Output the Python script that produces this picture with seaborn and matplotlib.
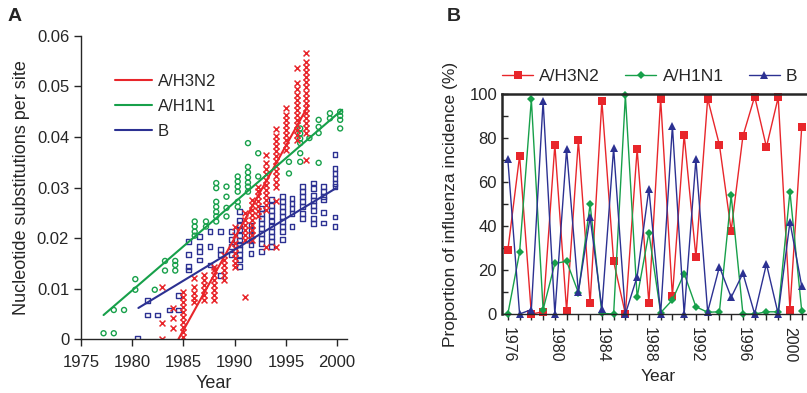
import numpy as np
import pandas as pd
import matplotlib
matplotlib.use("Agg")
import matplotlib.pyplot as plt
import seaborn as sns

sns.set_theme(style="ticks")
plt.rcParams['font.family'] = ['Liberation Sans', 'DejaVu Sans']

RED = '#e8262b'
GREEN = '#17a04a'
BLUE = '#2c3192'

# ---- panel A: substitutions per site, columns of samples per year ----
h3n2_cols = {
    1982.95: [0.0, 0.0032, 0.0104],
    1983.95: [0.0022, 0.0042, 0.0061],
    1985.0: [0.0005, 0.0015, 0.0025, 0.0035, 0.0045, 0.0055, 0.0064, 0.0074, 0.0084, 0.0093],
    1986.0: [0.0074, 0.0081, 0.0092, 0.0104, 0.0121],
    1987.0: [0.0078, 0.0088, 0.0098, 0.0108, 0.0118, 0.0127],
    1988.0: [0.0078, 0.0088, 0.0098, 0.0108, 0.0118, 0.0128, 0.0137, 0.0144],
    1989.0: [0.0117, 0.0127, 0.0137, 0.0147, 0.0157, 0.0167],
    1990.0: [0.0144, 0.0150, 0.0160, 0.0170, 0.0180, 0.0190, 0.0206, 0.0223],
    1991.0: [0.0084, 0.0196, 0.0206, 0.0216, 0.0226, 0.0236, 0.0250],
    1991.7: [0.0196, 0.0206, 0.0216, 0.0226, 0.0236, 0.0246, 0.0256, 0.0266, 0.0276],
    1992.3: [0.0243, 0.0253, 0.0263, 0.0273, 0.0283, 0.0293, 0.0302],
    1993.1: [0.0183, 0.0256, 0.0266, 0.0276, 0.0286, 0.0296, 0.0306, 0.0316, 0.0326, 0.0336, 0.0348, 0.0365],
    1994.0: [0.0183, 0.0273, 0.0302, 0.0312, 0.0322, 0.0332, 0.0342, 0.0352, 0.0362, 0.0372,
             0.0382, 0.0392, 0.0402, 0.0415],
    1995.0: [0.0374, 0.0384, 0.0394, 0.0404, 0.0414, 0.0424, 0.0434, 0.0444, 0.0457],
    1996.1: [0.0394, 0.0404, 0.0414, 0.0424, 0.0434, 0.0444, 0.0454, 0.0464, 0.0474, 0.0484,
             0.0495, 0.0506, 0.0536],
    1997.0: [0.0355, 0.0408, 0.0418, 0.0428, 0.0438, 0.0448, 0.0458, 0.0468, 0.0478, 0.0488,
             0.0498, 0.0508, 0.0518, 0.0528, 0.0538, 0.0548, 0.0566],
}
h1n1_cols = {
    1977.2: [0.0012],
    1978.2: [0.0012, 0.0058],
    1979.2: [0.0058],
    1980.3: [0.0098, 0.0119],
    1982.2: [0.0098],
    1983.2: [0.0136, 0.0155],
    1984.2: [0.0136, 0.0147, 0.0155],
    1986.1: [0.0205, 0.0213, 0.0223, 0.0233],
    1987.2: [0.0223, 0.0233],
    1988.2: [0.0233, 0.0243, 0.0252, 0.0262, 0.0272, 0.0299, 0.0309],
    1989.2: [0.0243, 0.0260, 0.0282, 0.0302],
    1990.3: [0.0262, 0.0272, 0.0292, 0.0302, 0.0312, 0.0322],
    1991.3: [0.0292, 0.0302, 0.0310, 0.0320, 0.0330, 0.0341, 0.0388],
    1992.3: [0.0322, 0.0368],
    1995.3: [0.0328, 0.0351],
    1996.4: [0.0351, 0.0368, 0.0388, 0.0397, 0.0407, 0.0417],
    1997.3: [0.0398],
    1998.2: [0.0349, 0.0408, 0.0420, 0.0434],
    1999.3: [0.0437, 0.0447],
    2000.3: [0.0417, 0.0434, 0.0442, 0.0450],
}
b_cols = {
    1980.5: [0.0001],
    1981.5: [0.0048, 0.0076],
    1982.5: [0.0048],
    1983.6: [0.0058],
    1984.5: [0.0058, 0.0086],
    1985.5: [0.0137, 0.0144, 0.0167, 0.0193],
    1986.6: [0.0157, 0.0173, 0.0183, 0.0203],
    1987.6: [0.0147, 0.0183, 0.0213],
    1988.6: [0.0127, 0.0167, 0.0177, 0.0213],
    1989.7: [0.0167, 0.0183, 0.0197, 0.0213],
    1990.5: [0.0144, 0.0157, 0.0167, 0.0177, 0.0187, 0.0196, 0.0206, 0.0216, 0.0226, 0.0236, 0.0252],
    1991.6: [0.0170, 0.0187, 0.0196, 0.0206, 0.0216, 0.0226],
    1992.6: [0.0173, 0.0189, 0.0199, 0.0209, 0.0219, 0.0229, 0.0239, 0.0249, 0.0259],
    1993.6: [0.0183, 0.0193, 0.0203, 0.0213, 0.0223, 0.0234, 0.0245, 0.0255, 0.0265, 0.0276],
    1994.7: [0.0197, 0.0213, 0.0223, 0.0233, 0.0243, 0.0253, 0.0263, 0.0273, 0.0282],
    1995.6: [0.0223, 0.0249, 0.0259, 0.0269, 0.0279],
    1996.6: [0.0239, 0.0249, 0.0262, 0.0272, 0.0282, 0.0292, 0.0302],
    1997.7: [0.0229, 0.0239, 0.0255, 0.0265, 0.0275, 0.0285, 0.0298, 0.0309],
    1998.7: [0.0230, 0.0250, 0.0276, 0.0282, 0.0292, 0.0302],
    1999.8: [0.0223, 0.0242, 0.0302, 0.0308, 0.0318, 0.0328, 0.0338, 0.0365],
}

# regression lines (end points)
h3n2_fit_year = [1984.5, 1997.2]
h3n2_fit_subs = [0.0, 0.0463]
h1n1_fit_year = [1977.2, 2000.5]
h1n1_fit_subs = [0.0048, 0.0454]
b_fit_year = [1980.6, 1999.9]
b_fit_subs = [0.0062, 0.0299]

a_xticks = [1975, 1980, 1985, 1990, 1995, 2000]
a_yticks = [0, 0.01, 0.02, 0.03, 0.04, 0.05, 0.06]
a_ytick_labels = ['0', '0.01', '0.02', '0.03', '0.04', '0.05', '0.06']

# ---- panel B: proportion of incidence (%) ----
years_b = list(range(1976, 2002))
h3n2_pct = [29, 72, 0, 1, 77, 1.5, 79, 5, 97, 24, 0, 75, 5, 98, 8, 81.5, 26, 98, 77, 38,
            81, 99, 76, 98.6, 2, 85]
h1n1_pct = [0, 28, 97.7, 2, 23, 24, 9.7, 50, 0.3, 0, 99.5, 7.6, 37, 0.6, 6.4, 18.4, 3.3,
            0.8, 1, 54, 0, 0, 1, 1, 55.7, 1.5]
b_pct = [70.4, 0, 2, 97, 0, 75, 10, 44, 2.5, 75.5, 0, 17, 57, 0, 85.6, 0, 70.4, 1, 21.5,
         7.6, 18.5, 0, 22.8, 0, 42, 12.7]
b_xticks = [1976, 1980, 1984, 1988, 1992, 1996, 2000]


def cols_to_df(cols):
    rows = [(yr, v) for yr, vals in cols.items() for v in vals]
    return pd.DataFrame(rows, columns=['year', 'subs'])


fig = plt.figure(figsize=(8.07, 3.93), dpi=100)
ax_a = fig.add_axes([0.1004, 0.1366, 0.33, 0.772])
ax_b = fig.add_axes([0.622, 0.201, 0.386, 0.559])

# panel A
sns.scatterplot(data=cols_to_df(b_cols), x='year', y='subs', ax=ax_a, marker='s', s=12,
                facecolors='none', edgecolors=BLUE, linewidths=1.0)
sns.scatterplot(data=cols_to_df(h1n1_cols), x='year', y='subs', ax=ax_a, marker='o', s=13,
                facecolors='none', edgecolors=GREEN, linewidths=1.0)
sns.scatterplot(data=cols_to_df(h3n2_cols), x='year', y='subs', ax=ax_a, marker='x', s=18,
                color=RED, linewidths=1.1)

sns.lineplot(x=h3n2_fit_year, y=h3n2_fit_subs, ax=ax_a, color=RED, lw=1.5, label='A/H3N2')
sns.lineplot(x=h1n1_fit_year, y=h1n1_fit_subs, ax=ax_a, color=GREEN, lw=1.5, label='A/H1N1')
sns.lineplot(x=b_fit_year, y=b_fit_subs, ax=ax_a, color=BLUE, lw=1.5, label='B')

ax_a.set_xlim(1975, 2001)
ax_a.set_ylim(0, 0.06)
ax_a.set_xticks(a_xticks)
ax_a.set_yticks(a_yticks, a_ytick_labels)
ax_a.tick_params(labelsize=12, direction='out', length=5, width=1)
ax_a.tick_params(axis='x', pad=6)
ax_a.set_xlabel('Year', fontsize=13)
ax_a.set_ylabel('Nucleotide substitutions per site', fontsize=13, labelpad=5)
sns.despine(ax=ax_a)
for sp in ax_a.spines.values():
    sp.set_linewidth(1)
ax_a.legend(loc='upper left', bbox_to_anchor=(0.128, 0.875), frameon=False, fontsize=12,
            handlelength=2.2, handletextpad=0.35, labelspacing=0.6, borderpad=0,
            borderaxespad=0)

# panel B
sns.lineplot(x=years_b, y=h3n2_pct, ax=ax_b, color=RED, marker='s', markersize=5.5,
             markeredgewidth=0, lw=1, label='A/H3N2', clip_on=False)
sns.lineplot(x=years_b, y=h1n1_pct, ax=ax_b, color=GREEN, marker='D', markersize=4,
             markeredgewidth=0, lw=1, label='A/H1N1', clip_on=False)
sns.lineplot(x=years_b, y=b_pct, ax=ax_b, color=BLUE, marker='^', markersize=6,
             markeredgewidth=0, lw=1, label='B', clip_on=False)

ax_b.set_xlim(1975.5, 2002)
ax_b.set_ylim(0, 100)
ax_b.set_yticks([0, 20, 40, 60, 80, 100])
ax_b.set_yticks([10, 30, 50, 70, 90], minor=True)
ax_b.set_xticks(b_xticks)
ax_b.set_xticks(years_b, minor=True)
ax_b.set_xticklabels([str(y) for y in b_xticks], rotation=-90)
ax_b.tick_params(axis='y', which='both', direction='in', length=4, width=1, labelsize=12)
ax_b.tick_params(axis='x', which='both', direction='out', length=4, width=1, labelsize=11.5,
                 pad=5)
ax_b.set_xlabel('Year', fontsize=12.5, labelpad=5)
ax_b.set_ylabel('Proportion of influenza incidence (%)', fontsize=12.5, labelpad=8)
ax_b.spines['right'].set_visible(False)
ax_b.spines['top'].set_linewidth(1.8)
ax_b.spines['left'].set_linewidth(1.8)
ax_b.spines['bottom'].set_linewidth(1)
ax_b.legend(loc='lower left', bbox_to_anchor=(0.0, 1.045), ncol=3, frameon=False,
            fontsize=12.5, handlelength=1.8, handletextpad=0.35, columnspacing=1.45,
            borderpad=0, borderaxespad=0)

fig.text(8 / 807, 1 - 8 / 393, 'A', fontsize=14, fontweight='bold', va='top', ha='left')
fig.text(447 / 807, 1 - 8 / 393, 'B', fontsize=14, fontweight='bold', va='top', ha='left')

fig.savefig('out.png', dpi=100)
